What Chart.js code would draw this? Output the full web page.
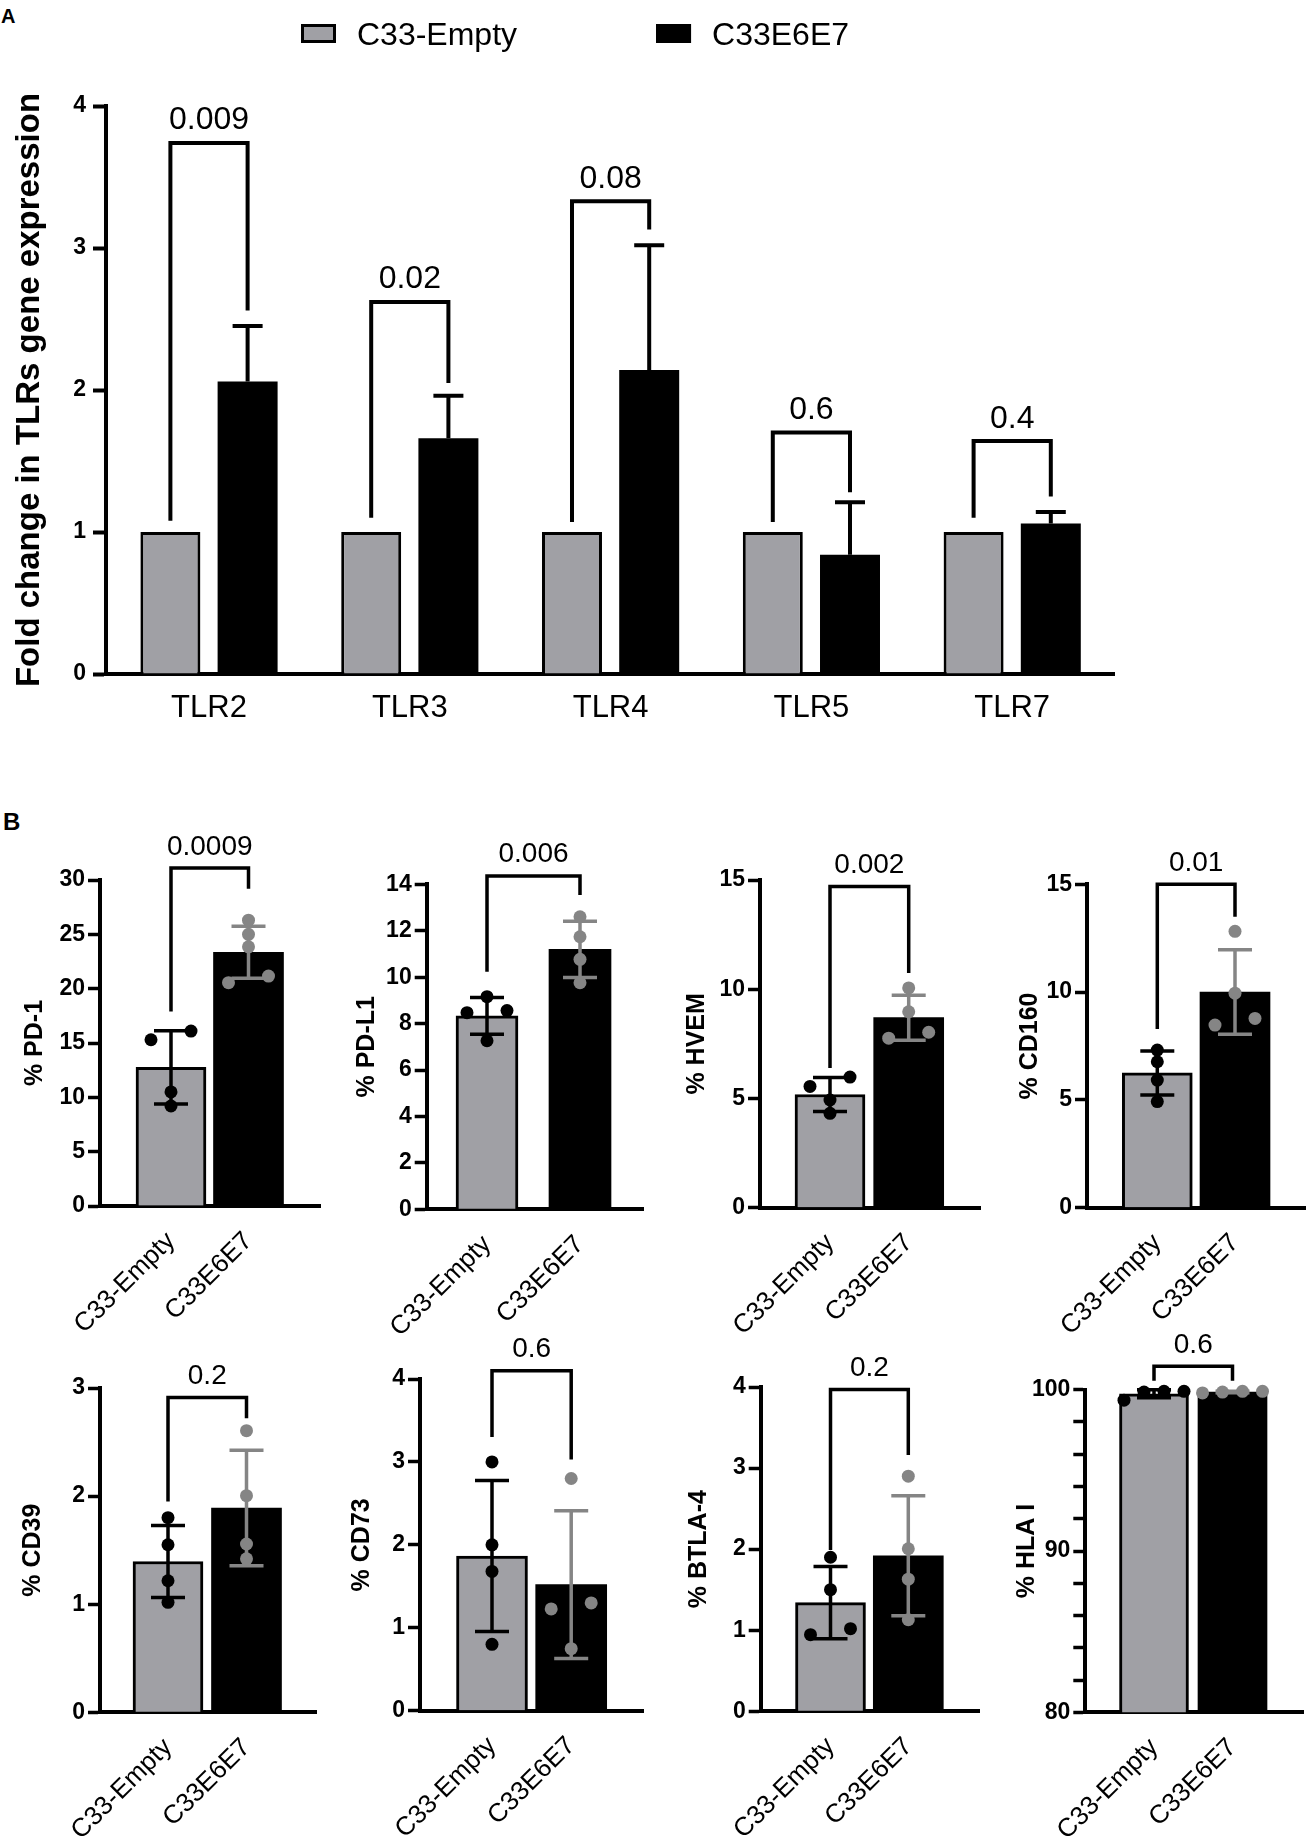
<!DOCTYPE html>
<html><head><meta charset="utf-8">
<script src="https://cdn.jsdelivr.net/npm/chart.js@4.4.1/dist/chart.umd.min.js"></script>
<style>
html,body{margin:0;padding:0;background:#fff;}
#page{position:relative;width:1312px;height:1838px;overflow:hidden;background:#fff;}
#page canvas{position:absolute;}
.plabel{position:absolute;font-family:'Liberation Sans',Arial,sans-serif;font-weight:bold;color:#000;line-height:1;}
</style></head><body><div id="page">
<div class="plabel" style="left:1px;top:6px;font-size:20px">A</div>
<div class="plabel" style="left:3px;top:810px;font-size:24px">B</div>
</div>
<script>
// ================= DATA =================
const seriesNames = ['C33-Empty', 'C33E6E7'];

// Panel A : fold change in TLR gene expression
const tlrCategories = ['TLR2', 'TLR3', 'TLR4', 'TLR5', 'TLR7'];
const tlrEmpty = [1, 1, 1, 1, 1];
const tlrE6E7 = [2.06, 1.66, 2.14, 0.84, 1.06];
const tlrE6E7SD = [0.39, 0.30, 0.88, 0.37, 0.08];
const tlrPValues = ['0.009', '0.02', '0.08', '0.6', '0.4'];
const tlrBracketTop = [3.74, 2.62, 3.33, 1.70, 1.64];
const tlrBracketLeftEnd = [1.08, 1.10, 1.07, 1.07, 1.10];
const tlrBracketRightEnd = [2.56, 2.05, 3.13, 1.28, 1.25];
const tlrYMax = 4;

// Panel B : % positive cells per marker
const markers = ['PD-1', 'PD-L1', 'HVEM', 'CD160', 'CD39', 'CD73', 'BTLA-4', 'HLA I'];
const markerYMin = [0, 0, 0, 0, 0, 0, 0, 80];
const markerYMax = [30, 14, 15, 15, 3, 4, 4, 100];
const markerYStep = [5, 2, 5, 5, 1, 1, 1, 2];
const markerYLabelEvery = [5, 2, 5, 5, 1, 1, 1, 10];
const emptyMean = [12.75, 8.33, 5.18, 6.25, 1.395, 1.865, 1.34, 99.75];
const emptySD = [3.37, 0.79, 0.78, 1.02, 0.333, 0.91, 0.446, 0.25];
const e6e7Mean = [23.35, 11.2, 8.7, 10.0, 1.89, 1.52, 1.918, 99.86];
const e6e7SD = [2.4, 1.21, 1.03, 1.96, 0.535, 0.89, 0.74, 0.05];
const emptyPoints = [
  [16.1, 15.3, 10.5, 9.2],
  [9.16, 8.56, 8.47, 7.26],
  [5.98, 5.55, 4.93, 4.32],
  [7.31, 6.77, 5.92, 4.92],
  [1.8, 1.55, 1.217, 1.017],
  [3.0, 2.0, 1.68, 0.8],
  [1.9, 1.5, 1.019, 0.945],
  [99.9, 99.9, 99.85, 99.35]
];
const e6e7Points = [
  [26.3, 25.0, 23.85, 21.16, 20.55],
  [12.6, 11.74, 10.77, 9.76],
  [10.06, 8.97, 8.03, 7.76],
  [12.82, 9.95, 8.78, 8.47],
  [2.605, 2.004, 1.557, 1.42],
  [2.8, 1.3, 1.227, 0.748],
  [2.9, 2.005, 1.63, 1.13],
  [99.9, 99.9, 99.85, 99.8]
];
const markerPValues = ['0.0009', '0.006', '0.002', '0.01', '0.2', '0.6', '0.2', '0.6'];
const markerBracketTop = [31.1, 14.36, 14.7, 15.0, 2.912, 4.10, 3.97, 101.45];
const markerBracketLeftEnd = [17.9, 10.23, 6.39, 8.29, 1.95, 3.30, 1.99, 100.56];
const markerBracketRightEnd = [29.2, 13.54, 10.74, 13.5, 2.72, 3.03, 3.16, 100.56];

// ================= LAYOUT / STYLE =================
const GRAY = '#a0a0a5', BLACK = '#000000', DOT_GRAY = '#858585';
const FONT = "'Liberation Sans', Arial, Helvetica, sans-serif";
Chart.defaults.font.family = FONT;
Chart.defaults.color = '#000';

const LAYOUT_A = {L: 106, T: 106, R: 1114, B: 674, c0: 209, step: 200.8, H: 770};
const LAYOUT_B = [
  {L: 100,    T: 880,    R: 320,    B: 1206,   c0: 171,    c1: 248.5, bw: 70, titleX: 35},
  {L: 426.7,  T: 884.3,  R: 643.3,  B: 1209.3, c0: 487,    c1: 580,   bw: 62, titleX: 366.7},
  {L: 760,    T: 880,    R: 980,    B: 1207.7, c0: 830,    c1: 908.7, bw: 70, titleX: 696.7},
  {L: 1087,   T: 884.3,  R: 1305.3, B: 1207.7, c0: 1157.3, c1: 1235,  bw: 70, titleX: 1030.3},
  {L: 100,    T: 1388,   R: 316.7,  B: 1712.3, c0: 168,    c1: 246.5, bw: 70, titleX: 33},
  {L: 420,    T: 1379,   R: 643.3,  B: 1710.7, c0: 492,    c1: 571.2, bw: 71, titleX: 361.7},
  {L: 760.7,  T: 1387,   R: 979.3,  B: 1711.3, c0: 830.5,  c1: 908.3, bw: 70, titleX: 699.3},
  {L: 1085.3, T: 1389.7, R: 1303.7, B: 1712.3, c0: 1154,   c1: 1232.5, bw: 69, titleX: 1027}
];

function makeCanvas(left, top, width, height) {
  const c = document.createElement('canvas');
  c.width = width; c.height = height;
  c.style.left = left + 'px'; c.style.top = top + 'px';
  c.style.width = width + 'px'; c.style.height = height + 'px';
  document.getElementById('page').appendChild(c);
  return c;
}

// Prism-like horizontal spreading of overlapping replicate dots
function spreadPoints(values, baseX, pxPerY, pxPerX) {
  const order = values.map((v, i) => i).sort((a, b) => values[a] - values[b]);
  const clusters = [];
  let cur = [order[0]];
  for (let j = 1; j < order.length; j++) {
    if ((values[order[j]] - values[order[j - 1]]) * pxPerY < 10) cur.push(order[j]);
    else { clusters.push(cur); cur = [order[j]]; }
  }
  clusters.push(cur);
  const xs = new Array(values.length);
  clusters.forEach(c => {
    const n = c.length;
    c.forEach((idx, k) => {
      const off = n === 1 ? 0 : (n === 2 ? (k === 0 ? -20 : 20) : (k - (n - 1) / 2) * 20);
      xs[idx] = baseX + off / pxPerX;
    });
  });
  return values.map((v, i) => ({x: xs[i], y: v}));
}

// ================= PANEL A =================
const tlrPlugin = {
  id: 'tlrAnnot',
  afterDatasetsDraw(chart) {
    const ctx = chart.ctx, y = chart.scales.y;
    const m0 = chart.getDatasetMeta(0), m1 = chart.getDatasetMeta(1);
    ctx.save();
    ctx.strokeStyle = BLACK; ctx.lineWidth = 4; ctx.lineJoin = 'miter';
    tlrCategories.forEach((c, i) => {
      const xb = m1.data[i].x, xg = m0.data[i].x;
      const ym = y.getPixelForValue(tlrE6E7[i]);
      const yt = y.getPixelForValue(tlrE6E7[i] + tlrE6E7SD[i]);
      ctx.beginPath();
      ctx.moveTo(xb, ym); ctx.lineTo(xb, yt);
      ctx.moveTo(xb - 15, yt); ctx.lineTo(xb + 15, yt);
      ctx.stroke();
      const top = y.getPixelForValue(tlrBracketTop[i]);
      ctx.beginPath();
      ctx.moveTo(xg, y.getPixelForValue(tlrBracketLeftEnd[i]));
      ctx.lineTo(xg, top); ctx.lineTo(xb, top);
      ctx.lineTo(xb, y.getPixelForValue(tlrBracketRightEnd[i]));
      ctx.stroke();
      ctx.fillStyle = BLACK; ctx.font = '32px ' + FONT;
      ctx.textAlign = 'center'; ctx.textBaseline = 'alphabetic';
      ctx.fillText(tlrPValues[i], (xg + xb) / 2, top - 13.5);
    });
    ctx.restore();
  },
  afterDraw(chart) {
    const ctx = chart.ctx;
    ctx.save();
    ctx.font = '32px ' + FONT; ctx.textBaseline = 'alphabetic'; ctx.textAlign = 'left';
    let x = 301;
    chart.data.datasets.forEach(ds => {
      ctx.fillStyle = ds.backgroundColor; ctx.fillRect(x, 24, 35, 19);
      ctx.lineWidth = 3; ctx.strokeStyle = BLACK; ctx.strokeRect(x + 1.5, 25.5, 32, 16);
      ctx.fillStyle = BLACK; ctx.fillText(ds.label, x + 56, 45);
      x += 56 + ctx.measureText(ds.label).width + 139;
    });
    ctx.restore();
  }
};

(function () {
  const A = LAYOUT_A;
  const n = tlrCategories.length;
  const cv = makeCanvas(0, 0, 1312, A.H);
  const xmin = -(A.c0 - A.L) / A.step;
  const xmax = (n - 1) + (A.R - (A.c0 + (n - 1) * A.step)) / A.step;
  new Chart(cv, {
    type: 'bar',
    data: {datasets: [
      {label: seriesNames[0], data: tlrEmpty.map((v, i) => ({x: i, y: v})), backgroundColor: GRAY,
       borderColor: BLACK, borderWidth: 3, categoryPercentage: 0.769, barPercentage: 0.777},
      {label: seriesNames[1], data: tlrE6E7.map((v, i) => ({x: i, y: v})), backgroundColor: BLACK,
       borderColor: BLACK, borderWidth: 0, categoryPercentage: 0.769, barPercentage: 0.777}
    ]},
    options: {
      responsive: false, animation: false, devicePixelRatio: 1,
      layout: {padding: {left: 0, top: A.T, right: 1312 - A.R, bottom: 0}},
      plugins: {legend: {display: false}, tooltip: {enabled: false}},
      scales: {
        x: {type: 'linear', bounds: 'data', min: xmin, max: xmax, offset: false,
            grid: {display: false, drawTicks: false, offset: false},
            border: {display: true, color: BLACK, width: 4},
            ticks: {autoSkip: false, maxRotation: 0, minRotation: 0, padding: 16, font: {size: 31}, color: BLACK,
                    callback: v => tlrCategories[v]},
            afterBuildTicks: s => { s.ticks = tlrCategories.map((_, i) => ({value: i})); },
            afterFit: s => { s.height = A.H - A.B; s.paddingLeft = 0; s.paddingRight = 0; }},
        y: {min: 0, max: tlrYMax,
            ticks: {stepSize: 1, font: {size: 23, weight: 'bold'}, color: BLACK, padding: 7, autoSkip: false},
            grid: {display: true, drawOnChartArea: false, drawTicks: true, tickLength: 13, tickWidth: 4, tickColor: BLACK},
            border: {display: true, color: BLACK, width: 4},
            title: {display: true, text: 'Fold change in TLRs gene expression', font: {size: 33, weight: 'bold'},
                    color: BLACK, padding: {top: 10, bottom: 0}},
            afterFit: s => { s.width = A.L; s.paddingTop = 0; s.paddingBottom = 0; }}
      }
    },
    plugins: [tlrPlugin]
  });
})();

// ================= PANEL B =================
function markerPlugin(k) {
  return {
    id: 'markerAnnot' + k,
    afterDatasetDraw(chart, args) {
      if (args.index !== 0) return;
      const ctx = chart.ctx, xS = chart.scales.x, yS = chart.scales.y;
      ctx.save();
      ctx.lineWidth = 3.5;
      [[0, emptyMean[k], emptySD[k], BLACK], [1, e6e7Mean[k], e6e7SD[k], DOT_GRAY]].forEach(([xi, m, sd, col]) => {
        const x = xS.getPixelForValue(xi);
        const yt = yS.getPixelForValue(m + sd), yb = yS.getPixelForValue(m - sd);
        ctx.strokeStyle = col;
        ctx.beginPath();
        ctx.moveTo(x, yt); ctx.lineTo(x, yb);
        ctx.moveTo(x - 17, yt); ctx.lineTo(x + 17, yt);
        ctx.moveTo(x - 17, yb); ctx.lineTo(x + 17, yb);
        ctx.stroke();
      });
      ctx.restore();
    },
    afterDatasetsDraw(chart) {
      const ctx = chart.ctx, xS = chart.scales.x, yS = chart.scales.y;
      const x0 = xS.getPixelForValue(0), x1 = xS.getPixelForValue(1);
      const top = yS.getPixelForValue(markerBracketTop[k]);
      ctx.save();
      ctx.strokeStyle = BLACK; ctx.lineWidth = 3.5; ctx.lineJoin = 'miter';
      ctx.beginPath();
      ctx.moveTo(x0, yS.getPixelForValue(markerBracketLeftEnd[k]));
      ctx.lineTo(x0, top); ctx.lineTo(x1, top);
      ctx.lineTo(x1, yS.getPixelForValue(markerBracketRightEnd[k]));
      ctx.stroke();
      ctx.fillStyle = BLACK; ctx.font = '28px ' + FONT;
      ctx.textAlign = 'center'; ctx.textBaseline = 'alphabetic';
      ctx.fillText(markerPValues[k], (x0 + x1) / 2, top - 13.5);
      ctx.restore();
    }
  };
}

LAYOUT_B.forEach((lay, k) => {
  const cl = Math.round(lay.titleX - 15), ct = Math.round(lay.T - 95);
  const cr = Math.min(1312, Math.round(lay.R + 8)), cb = Math.round(lay.B + 140);
  const cv = makeCanvas(cl, ct, cr - cl, cb - ct);
  const ppx = lay.c1 - lay.c0;
  const xmin = -(lay.c0 - lay.L) / ppx, xmax = 1 + (lay.R - lay.c1) / ppx;
  const ppy = (lay.B - lay.T) / (markerYMax[k] - markerYMin[k]);
  const every = markerYLabelEvery[k];
  new Chart(cv, {
    type: 'bar',
    data: {datasets: [
      {type: 'bar', label: markers[k], data: [{x: 0, y: emptyMean[k]}, {x: 1, y: e6e7Mean[k]}],
       backgroundColor: [GRAY, BLACK], borderColor: BLACK, borderWidth: [3, 0], barThickness: lay.bw, order: 2},
      {type: 'scatter', label: seriesNames[0], data: spreadPoints(emptyPoints[k], 0, ppy, ppx),
       pointRadius: 6.5, pointHoverRadius: 6.5, pointBorderWidth: 0, pointBackgroundColor: BLACK,
       backgroundColor: BLACK, clip: false, order: 1},
      {type: 'scatter', label: seriesNames[1], data: spreadPoints(e6e7Points[k], 1, ppy, ppx),
       pointRadius: 6.5, pointHoverRadius: 6.5, pointBorderWidth: 0, pointBackgroundColor: DOT_GRAY,
       backgroundColor: DOT_GRAY, clip: false, order: 1}
    ]},
    options: {
      responsive: false, animation: false, devicePixelRatio: 1,
      layout: {padding: {left: 0, top: lay.T - ct, right: cr - lay.R, bottom: 0}},
      plugins: {legend: {display: false}, tooltip: {enabled: false}},
      scales: {
        x: {type: 'linear', bounds: 'data', min: xmin, max: xmax, offset: false,
            grid: {display: false, drawTicks: false, offset: false},
            border: {display: true, color: BLACK, width: 4},
            ticks: {autoSkip: false, minRotation: 45, maxRotation: 45, padding: 20, font: {size: 26}, color: BLACK,
                    callback: v => seriesNames[v]},
            afterBuildTicks: s => { s.ticks = [{value: 0}, {value: 1}]; },
            afterFit: s => { s.height = cb - lay.B; s.paddingLeft = 0; s.paddingRight = 0; }},
        y: {min: markerYMin[k], max: markerYMax[k],
            ticks: {stepSize: markerYStep[k], autoSkip: false, font: {size: 23, weight: 'bold'}, color: BLACK, padding: 3,
                    callback: v => (Math.abs(v % every) < 1e-9 ? String(v) : '')},
            grid: {display: true, drawOnChartArea: false, drawTicks: true, tickLength: 12, tickWidth: 3.5, tickColor: BLACK},
            border: {display: true, color: BLACK, width: 4},
            title: {display: true, text: '% ' + markers[k], font: {size: 25, weight: 'bold'}, color: BLACK, padding: 0},
            afterFit: s => { s.width = lay.L - cl; s.paddingTop = 0; s.paddingBottom = 0; }}
      }
    },
    plugins: [markerPlugin(k)]
  });
});
</script>
</body></html>
